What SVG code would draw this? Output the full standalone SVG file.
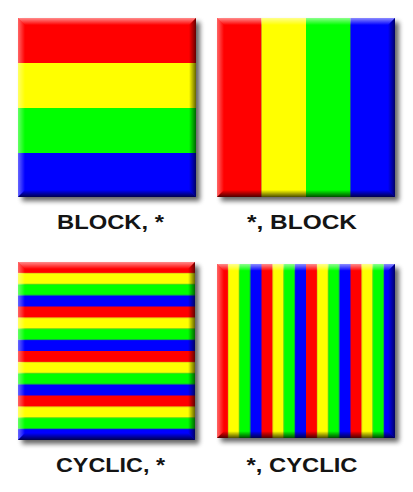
<svg xmlns="http://www.w3.org/2000/svg" xmlns:xlink="http://www.w3.org/1999/xlink" width="413" height="492" viewBox="0 0 413 492">
<style>
.r{fill:#FF0000}.y{fill:#FFFF00}.g{fill:#00FF00}.b{fill:#0000FF}
.shadow{fill:#000;opacity:0.6;filter:url(#blur)}
.lbl{font-family:"Liberation Sans",Arial,sans-serif;font-weight:bold;font-size:20px;fill:#141414;text-anchor:middle}
</style>
<defs>
<filter id="blur" x="-10%" y="-10%" width="120%" height="120%"><feGaussianBlur stdDeviation="2.5"/></filter>
<linearGradient id="gTop" x1="0" y1="0" x2="0" y2="1"><stop offset="0" stop-color="#fff" stop-opacity="0.55"/><stop offset="1" stop-color="#fff" stop-opacity="0"/></linearGradient>
<linearGradient id="gLeft" x1="0" y1="0" x2="1" y2="0"><stop offset="0" stop-color="#fff" stop-opacity="0.4"/><stop offset="1" stop-color="#fff" stop-opacity="0"/></linearGradient>
<linearGradient id="gRight" x1="0" y1="0" x2="1" y2="0"><stop offset="0" stop-color="#000" stop-opacity="0"/><stop offset="1" stop-color="#000" stop-opacity="0.6"/></linearGradient>
<linearGradient id="gBottom" x1="0" y1="0" x2="0" y2="1"><stop offset="0" stop-color="#000" stop-opacity="0"/><stop offset="1" stop-color="#000" stop-opacity="0.7"/></linearGradient>
<symbol id="bevel" viewBox="0 0 178 178" preserveAspectRatio="none">
<polygon points="0,0 178,0 171,7 7,7" fill="url(#gTop)"/>
<polygon points="0,0 7,7 7,171 0,178" fill="url(#gLeft)"/>
<polygon points="178,0 178,178 171,171 171,7" fill="url(#gRight)"/>
<polygon points="0,178 178,178 171,171 7,171" fill="url(#gBottom)"/>
</symbol>
<pattern id="hStripes" patternUnits="userSpaceOnUse" x="0" y="262" width="413" height="44.5">
<rect x="0" y="0" width="413" height="11.125" class="r"/>
<rect x="0" y="11.125" width="413" height="11.125" class="y"/>
<rect x="0" y="22.25" width="413" height="11.125" class="g"/>
<rect x="0" y="33.375" width="413" height="11.125" class="b"/>
</pattern>
<pattern id="vStripes" patternUnits="userSpaceOnUse" x="217" y="0" width="44.5" height="492">
<rect x="0" y="0" width="11.125" height="492" class="r"/>
<rect x="11.125" y="0" width="11.125" height="492" class="y"/>
<rect x="22.25" y="0" width="11.125" height="492" class="g"/>
<rect x="33.375" y="0" width="11.125" height="492" class="b"/>
</pattern>
</defs>
<rect width="413" height="492" fill="#fff"/>

<g id="block-star">
<rect class="shadow" x="22" y="22" width="178" height="179"/>
<rect class="r" x="18" y="18" width="178" height="45"/>
<rect class="y" x="18" y="63" width="178" height="45"/>
<rect class="g" x="18" y="108" width="178" height="45"/>
<rect class="b" x="18" y="153" width="178" height="44"/>
<use xlink:href="#bevel" href="#bevel" x="18" y="18" width="178" height="179"/>
<text class="lbl" x="110.5" y="229" textLength="107" lengthAdjust="spacingAndGlyphs">BLOCK, *</text>
</g>

<g id="star-block">
<rect class="shadow" x="221" y="22" width="178" height="179"/>
<rect class="r" x="217" y="18" width="44.5" height="179"/>
<rect class="y" x="261.5" y="18" width="44.5" height="179"/>
<rect class="g" x="306" y="18" width="44.5" height="179"/>
<rect class="b" x="350.5" y="18" width="44.5" height="179"/>
<use xlink:href="#bevel" href="#bevel" x="217" y="18" width="178" height="179"/>
<text class="lbl" x="302" y="229" textLength="110" lengthAdjust="spacingAndGlyphs">*, BLOCK</text>
</g>

<g id="cyclic-star">
<rect class="shadow" x="22" y="266" width="177" height="178"/>
<rect x="18" y="262" width="177" height="178" fill="url(#hStripes)"/>
<use xlink:href="#bevel" href="#bevel" x="18" y="262" width="177" height="178"/>
<text class="lbl" x="110.5" y="471.5" textLength="109" lengthAdjust="spacingAndGlyphs">CYCLIC, *</text>
</g>

<g id="star-cyclic">
<rect class="shadow" x="221" y="268" width="178" height="174"/>
<rect x="217" y="264" width="178" height="174" fill="url(#vStripes)"/>
<use xlink:href="#bevel" href="#bevel" x="217" y="264" width="178" height="174"/>
<text class="lbl" x="302" y="471.5" textLength="111" lengthAdjust="spacingAndGlyphs">*, CYCLIC</text>
</g>

<g id="connectors"/>
</svg>
